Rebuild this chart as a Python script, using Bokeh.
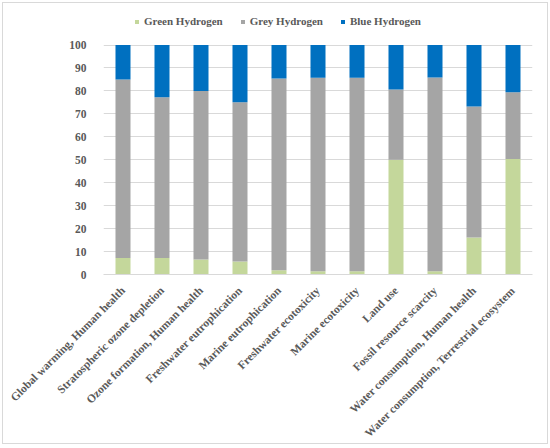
from bokeh.plotting import figure
from bokeh.models import Range1d, FactorRange, Legend, LegendItem, FixedTicker
from bokeh.embed import file_html
from bokeh.resources import INLINE
from math import pi

categories = [
    "Global warming, Human health",
    "Stratospheric ozone depletion",
    "Ozone formation, Human health",
    "Freshwater eutrophication",
    "Marine eutrophication",
    "Freshwater ecotoxicity",
    "Marine ecotoxicity",
    "Land use",
    "Fossil resource scarcity",
    "Water consumption, Human health",
    "Water consumption, Terrestrial ecosystem",
]
green = [7.2, 7.2, 6.5, 5.7, 1.9, 1.4, 1.4, 50.0, 1.4, 16.1, 50.3]
grey = [77.8, 70.0, 73.5, 69.4, 83.5, 84.3, 84.3, 30.6, 84.5, 57.1, 29.1]
blue = [15.0, 22.8, 20.0, 24.9, 14.6, 14.3, 14.3, 19.4, 14.1, 26.8, 20.6]
series = ["Green Hydrogen", "Grey Hydrogen", "Blue Hydrogen"]
y_ticks = list(range(0, 101, 10))

colors = ["#c4d79b", "#a5a5a5", "#0070c0"]
FONT = "Liberation Serif"
TXT = "#595959"

# frame spans the top margin too, so the legend sits inside it; 100 maps to ~45px from top
p = figure(width=550, height=446, output_backend="svg", toolbar_location=None,
           x_range=FactorRange(*categories, range_padding=0),
           y_range=Range1d(0, 119.4),
           min_border_left=103, min_border_right=18, min_border_top=0, min_border_bottom=171,
           styles={"outline": "1px solid #d9d9d9", "outline-offset": "-3px"})

data = dict(cat=categories, g=green, gr=grey, b=blue)
rs = p.vbar_stack(["g", "gr", "b"], x="cat", width=0.385, color=colors, source=data, line_color=None)

p.outline_line_color = None
p.background_fill_alpha = 0
p.border_fill_alpha = 0

p.xgrid.grid_line_color = None
p.ygrid.grid_line_color = "#d9d9d9"
p.ygrid.ticker = FixedTicker(ticks=y_ticks)
p.yaxis.ticker = FixedTicker(ticks=y_ticks)

p.yaxis.axis_line_color = None
p.yaxis.major_tick_line_color = None
p.yaxis.minor_tick_line_color = None
p.yaxis.major_label_standoff = 11
p.xaxis.axis_line_color = "#d9d9d9"
p.xaxis.major_tick_line_color = None
p.xaxis.major_label_orientation = pi / 4
p.xaxis.major_label_standoff = 8

for ax in (p.xaxis[0], p.yaxis[0]):
    ax.major_label_text_font = FONT
    ax.major_label_text_font_style = "bold"
    ax.major_label_text_font_size = "11.5px"
    ax.major_label_text_color = TXT

legend = Legend(items=[LegendItem(label=s, renderers=[r]) for s, r in zip(series, rs)],
                orientation="horizontal", location=(31, 247),
                glyph_width=5, glyph_height=5, label_standoff=5, spacing=17, padding=0,
                border_line_color=None, background_fill_alpha=0,
                label_text_font=FONT, label_text_font_style="bold",
                label_text_font_size="11px", label_text_color=TXT)
p.add_layout(legend, "center")

open("out.html", "w").write(file_html(p, INLINE))
